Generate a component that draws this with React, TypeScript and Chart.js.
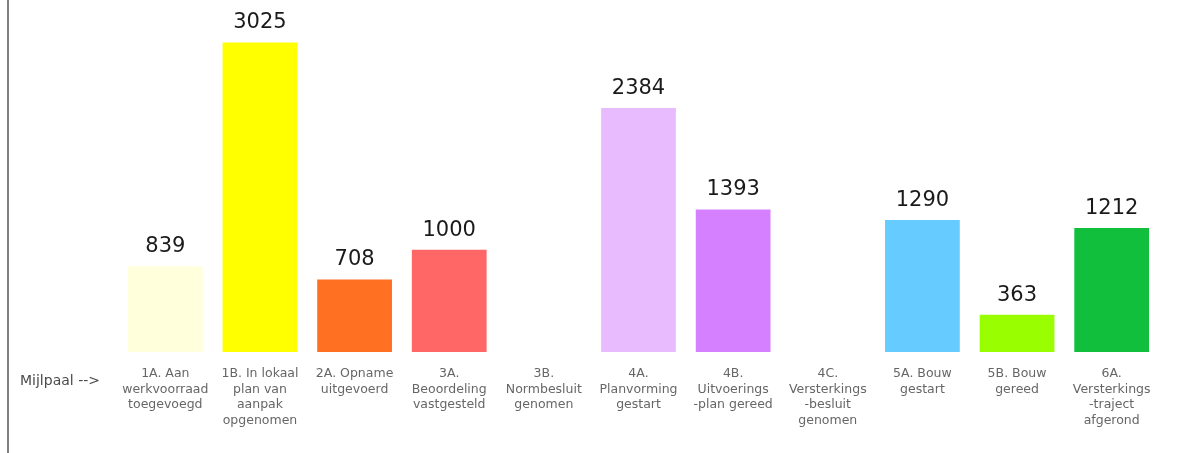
import React, { useEffect, useRef } from "react";
import { Chart, registerables } from "chart.js";

Chart.register(...registerables);

const categories: string[][] = [
  ["1A. Aan", "werkvoorraad", "toegevoegd"],
  ["1B. In lokaal", "plan van", "aanpak", "opgenomen"],
  ["2A. Opname", "uitgevoerd"],
  ["3A.", "Beoordeling", "vastgesteld"],
  ["3B.", "Normbesluit", "genomen"],
  ["4A.", "Planvorming", "gestart"],
  ["4B.", "Uitvoerings", "-plan gereed"],
  ["4C.", "Versterkings", "-besluit", "genomen"],
  ["5A. Bouw", "gestart"],
  ["5B. Bouw", "gereed"],
  ["6A.", "Versterkings", "-traject", "afgerond"],
];

const values: (number | null)[] = [839, 3025, 708, 1000, null, 2384, 1393, null, 1290, 363, 1212];

const barColors: string[] = [
  "#FFFFDC",
  "#FFFF00",
  "#FF7022",
  "#FF6666",
  "#FFFFFF",
  "#E8BBFF",
  "#D580FF",
  "#FFFFFF",
  "#66CCFF",
  "#99FF00",
  "#11BF3D",
];

const axisLead = "Mijlpaal -->";

const valueLabelPlugin = {
  id: "valueLabels",
  afterDatasetsDraw(chart: any) {
    const ctx = chart.ctx;
    const meta = chart.getDatasetMeta(0);
    ctx.save();
    ctx.font = "21px 'DejaVu Sans'";
    ctx.fillStyle = "#1a1a1a";
    ctx.textAlign = "center";
    ctx.textBaseline = "bottom";
    meta.data.forEach((bar: any, i: number) => {
      const v = values[i];
      if (v === null || v === undefined) return;
      ctx.fillText(String(v), bar.x, bar.y - 9);
    });
    ctx.restore();
  },
};

const leadLabelPlugin = {
  id: "leadLabel",
  afterDraw(chart: any) {
    const ctx = chart.ctx;
    ctx.save();
    ctx.font = "14px 'DejaVu Sans'";
    ctx.fillStyle = "#4a4a4a";
    ctx.textAlign = "left";
    ctx.textBaseline = "middle";
    ctx.fillText(axisLead, 20, chart.chartArea.bottom + 29);
    ctx.restore();
  },
};

export default function App() {
  const ref = useRef<HTMLCanvasElement | null>(null);

  useEffect(() => {
    if (!ref.current) return;
    const chart = new Chart(ref.current, {
      type: "bar",
      data: {
        labels: categories,
        datasets: [
          {
            data: values as any,
            backgroundColor: barColors,
            borderWidth: 0,
            barPercentage: 0.79,
            categoryPercentage: 1.0,
          },
        ],
      },
      options: {
        animation: false,
        responsive: false,
        maintainAspectRatio: false,
        layout: { padding: { left: 118, right: 24, top: 4, bottom: 0 } },
        plugins: {
          legend: { display: false },
          tooltip: { enabled: false },
        },
        scales: {
          x: {
            grid: { display: false, drawTicks: false },
            border: { display: false },
            ticks: {
              color: "#666666",
              font: { family: "'DejaVu Sans'", size: 12.5, lineHeight: 1.25 },
              padding: 14,
              maxRotation: 0,
              autoSkip: false,
            },
            afterFit: (s: any) => {
              s.height = 101;
            },
          },
          y: {
            display: false,
            min: 0,
            max: 3400,
          },
        },
      },
      plugins: [valueLabelPlugin, leadLabelPlugin],
    });
    return () => chart.destroy();
  }, []);

  return (
    <div style={{ position: "fixed", left: 0, top: 0, width: 1183, height: 453, background: "#ffffff" }}>
      <div style={{ position: "absolute", left: 7, top: 0, width: 2, height: 453, background: "#808080" }} />
      <canvas ref={ref} width={1183} height={453} style={{ position: "absolute", left: 0, top: 0 }} />
    </div>
  );
}
